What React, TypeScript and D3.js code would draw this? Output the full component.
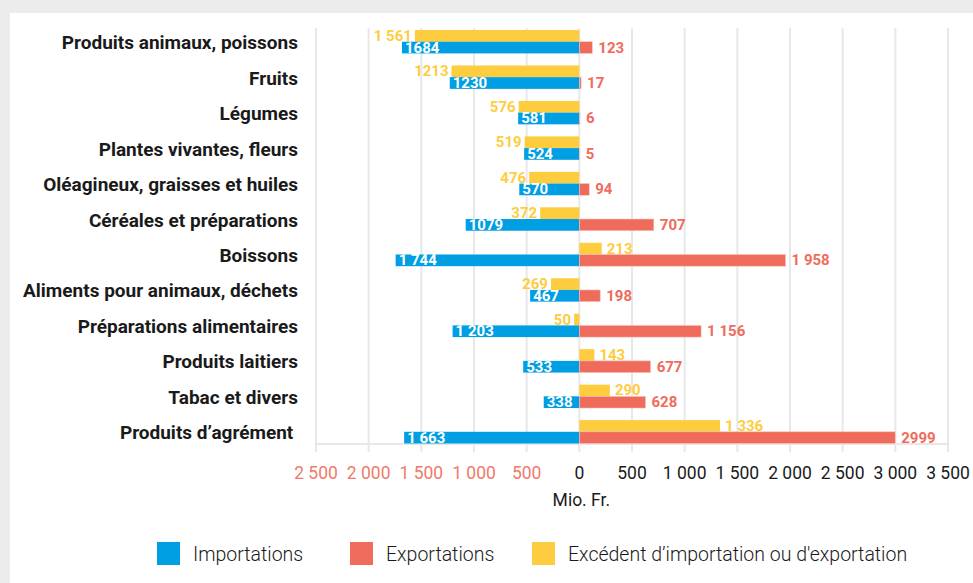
// Agricultural trade chart: imports vs exports with surplus, diverging horizontal bars
import React, { useEffect, useRef } from 'react';
import * as d3 from 'd3';

const categories = [
  'Produits animaux, poissons',
  'Fruits',
  'Légumes',
  'Plantes vivantes, fleurs',
  'Oléagineux, graisses et huiles',
  'Céréales et préparations',
  'Boissons',
  'Aliments pour animaux, déchets',
  'Préparations alimentaires',
  'Produits laitiers',
  'Tabac et divers',
  'Produits d’agrément\u00a0',
];

const imports = [1684, 1230, 581, 524, 570, 1079, 1744, 467, 1203, 533, 338, 1663];
const exportsVals = [123, 17, 6, 5, 94, 707, 1958, 198, 1156, 677, 628, 2999];
// negative = import surplus, positive = export surplus
const surplus = [-1561, -1213, -576, -519, -476, -372, 213, -269, -50, 143, 290, 1336];

const importLabels = ['1684', '1230', '581', '524', '570', '1079', '1 744', '467', '1 203', '533', '338', '1 663'];
const exportLabels = ['123', '17', '6', '5', '94', '707', '1 958', '198', '1 156', '677', '628', '2999'];
const surplusLabels = ['1 561', '1213', '576', '519', '476', '372', '213', '269', '50', '143', '290', '1 336'];

const xTicks = [-2500, -2000, -1500, -1000, -500, 0, 500, 1000, 1500, 2000, 2500, 3000, 3500];

const legendItems = [
  { label: 'Importations', color: '#009fe3' },
  { label: 'Exportations', color: '#ef6b5b' },
  { label: 'Excédent d’importation ou d\'exportation', color: '#fecd3f' },
];

const BLUE = '#009fe3';
const RED = '#ef6b5b';
const YELLOW = '#fecd3f';
const FONT = 'Roboto, "Open Sans", sans-serif';

const App: React.FC = () => {
  const ref = useRef<SVGSVGElement>(null);

  useEffect(() => {
    if (!ref.current) return;
    const svg = d3.select(ref.current);
    svg.selectAll('*').remove();

    const width = 973;
    const height = 583;
    svg.attr('width', width).attr('height', height);

    // background and panel
    svg.append('rect').attr('width', width).attr('height', height).attr('fill', '#ececec');
    svg.append('rect').attr('x', 10).attr('y', 13).attr('width', width - 10).attr('height', height - 13).attr('fill', '#fff');

    const x = d3.scaleLinear().domain([-2500, 3500]).range([316, 948]);
    const y = d3.scaleBand<string>().domain(categories).range([30, 443.5]).paddingInner(0.34).paddingOuter(0);
    const bw = y.bandwidth();
    const half = bw / 2;

    const fmt = d3.formatLocale({ decimal: ',', thousands: ' ', grouping: [3], currency: ['', ' Fr.'] }).format(',d');

    // grid lines
    svg.append('g')
      .selectAll('line')
      .data(xTicks)
      .enter()
      .append('line')
      .attr('x1', d => x(d))
      .attr('x2', d => x(d))
      .attr('y1', 28)
      .attr('y2', 452)
      .attr('stroke', '#e8e8e8')
      .attr('stroke-width', 2);

    svg.append('line')
      .attr('x1', x(-2500))
      .attr('x2', x(3500))
      .attr('y1', 444)
      .attr('y2', 444)
      .attr('stroke', '#e8e8e8')
      .attr('stroke-width', 2);

    const rows = categories.map((c, i) => ({
      cat: c,
      imp: imports[i],
      exp: exportsVals[i],
      sur: surplus[i],
      impLabel: importLabels[i],
      expLabel: exportLabels[i],
      surLabel: surplusLabels[i],
    }));

    const g = svg.append('g');

    // surplus bars (upper half)
    g.selectAll('.sur')
      .data(rows)
      .enter()
      .append('rect')
      .attr('x', d => x(Math.min(0, d.sur)))
      .attr('width', d => Math.abs(x(d.sur) - x(0)))
      .attr('y', d => y(d.cat)!)
      .attr('height', half)
      .attr('fill', YELLOW);

    // import bars (lower half, to the left)
    g.selectAll('.imp')
      .data(rows)
      .enter()
      .append('rect')
      .attr('x', d => x(-d.imp))
      .attr('width', d => x(0) - x(-d.imp))
      .attr('y', d => y(d.cat)! + half)
      .attr('height', half)
      .attr('fill', BLUE);

    // export bars (lower half, to the right)
    g.selectAll('.exp')
      .data(rows)
      .enter()
      .append('rect')
      .attr('x', x(0))
      .attr('width', d => x(d.exp) - x(0))
      .attr('y', d => y(d.cat)! + half)
      .attr('height', half)
      .attr('fill', RED)
      .attr('stroke', '#f9c3bb')
      .attr('stroke-width', 0.6);

    // value labels
    const valueStyle = (sel: d3.Selection<SVGTextElement, any, any, any>) =>
      sel.style('font-family', FONT)
        .style('font-size', '15px')
        .style('font-weight', '700')
        .attr('dominant-baseline', 'central');

    g.selectAll('.impLabel')
      .data(rows)
      .enter()
      .append('text')
      .attr('x', d => x(-d.imp) + 3)
      .attr('y', d => y(d.cat)! + half * 1.5)
      .attr('fill', '#fff')
      .call(valueStyle)
      .text(d => d.impLabel);

    g.selectAll('.expLabel')
      .data(rows)
      .enter()
      .append('text')
      .attr('x', d => x(d.exp) + 6)
      .attr('y', d => y(d.cat)! + half * 1.5)
      .attr('fill', RED)
      .call(valueStyle)
      .text(d => d.expLabel);

    g.selectAll('.surLabel')
      .data(rows)
      .enter()
      .append('text')
      .attr('x', d => (d.sur < 0 ? x(d.sur) - 3 : x(d.sur) + 5))
      .attr('text-anchor', d => (d.sur < 0 ? 'end' : 'start'))
      .attr('y', d => y(d.cat)! + half * 0.5)
      .attr('fill', YELLOW)
      .call(valueStyle)
      .text(d => d.surLabel);

    // category labels
    svg.append('g')
      .selectAll('text')
      .data(categories)
      .enter()
      .append('text')
      .attr('x', 298)
      .attr('y', d => y(d)! + half + 1)
      .attr('text-anchor', 'end')
      .attr('dominant-baseline', 'central')
      .style('font-family', FONT)
      .style('font-size', '19px')
      .style('font-weight', '700')
      .style('white-space', 'pre')
      .attr('fill', '#1a1a1a')
      .text(d => d);

    // x tick labels
    svg.append('g')
      .selectAll('text')
      .data(xTicks)
      .enter()
      .append('text')
      .attr('x', d => x(d))
      .attr('y', 473)
      .attr('text-anchor', 'middle')
      .attr('dominant-baseline', 'central')
      .style('font-family', FONT)
      .style('font-size', '17.5px')
      .attr('fill', d => (d < 0 ? '#f07a69' : '#1a1a1a'))
      .text(d => fmt(Math.abs(d)));

    svg.append('text')
      .attr('x', x(0) + 2)
      .attr('y', 500)
      .attr('text-anchor', 'middle')
      .attr('dominant-baseline', 'central')
      .style('font-family', FONT)
      .style('font-size', '17.5px')
      .attr('fill', '#1a1a1a')
      .text('Mio. Fr.');

    // legend
    const legendX = [157, 350, 532];
    const legend = svg.append('g');
    legendItems.forEach((item, i) => {
      legend.append('rect')
        .attr('x', legendX[i])
        .attr('y', 542)
        .attr('width', 23)
        .attr('height', 23)
        .attr('fill', item.color);
      legend.append('text')
        .attr('x', legendX[i] + 36)
        .attr('y', 554)
        .attr('dominant-baseline', 'central')
        .style('font-family', FONT)
        .style('font-size', '19.5px')
        .style('font-weight', '300')
        .attr('fill', '#1a1a1a')
        .text(item.label);
    });
  }, []);

  return (
    <div style={{ position: 'absolute', left: 0, top: 0 }}>
      <svg ref={ref} style={{ display: 'block' }}></svg>
    </div>
  );
};

export default App;
